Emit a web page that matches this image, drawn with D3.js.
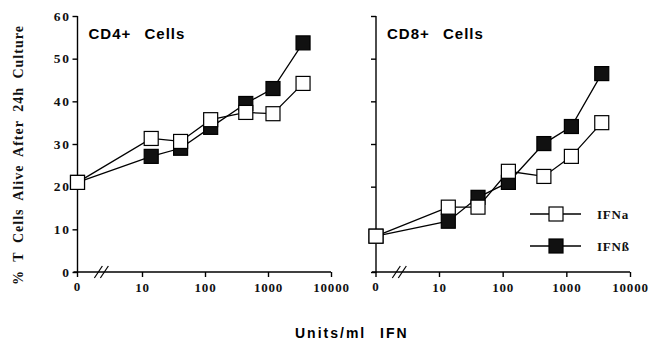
<!DOCTYPE html>
<html>
<head>
<meta charset="utf-8">
<script src="https://cdn.jsdelivr.net/npm/d3@7"></script>
<style>
  body { margin: 0; background: #fff; }
  .tick-lab { font-family: "Liberation Serif", "Times New Roman", serif; font-weight: bold; font-size: 13px; letter-spacing: 0.8px; }
  .y-lab { font-size: 13.5px; letter-spacing: 1.6px; }
  .panel-title { font-family: "Liberation Sans", Arial, sans-serif; font-weight: bold; font-size: 15px; letter-spacing: 1px; }
</style>
</head>
<body>
<svg id="chart" width="657" height="343"></svg>
<script>
// doses (units/ml); 0 is drawn left of the axis break
var doses = [0, 14, 41, 123, 444, 1200, 3600];
var cd4Alpha = [21, 31.3, 30.6, 35.7, 37.4, 37.1, 44.2];
var cd4Beta  = [21, 27.1, 29.0, 33.9, 39.5, 43.0, 53.7];
var cd8Alpha = [8.4, 15.2, 15.2, 23.6, 22.4, 27.1, 35.0];
var cd8Beta  = [8.4, 11.9, 17.5, 21.0, 30.1, 34.1, 46.5];
var xTicks = [10, 100, 1000, 10000];
var yTicks = [0, 10, 20, 30, 40, 50, 60];
var seriesNames = ['IFNa', 'IFNß'];

var svg = d3.select('#chart');
var y = d3.scaleLinear().domain([0, 60]).range([272, 16]);
var SQ = 14;

var panels = [
  { title: 'CD4+', alpha: cd4Alpha, beta: cd4Beta, x0: 77.5, logRange: [142, 331], labels: true },
  { title: 'CD8+', alpha: cd8Alpha, beta: cd8Beta, x0: 376, logRange: [439, 630], labels: false }
];

panels.forEach(function(p) {
  var xl = d3.scaleLog().domain([10, 10000]).range(p.logRange);
  var xpos = function(d) { return d === 0 ? p.x0 : xl(d); };
  var g = svg.append('g');

  // y axis
  var ya = d3.axisLeft(y).tickValues(yTicks).tickSize(5).tickPadding(2)
    .tickFormat(p.labels ? d3.format('d') : '');
  var yg = g.append('g').attr('transform', 'translate(' + p.x0 + ',0)').call(ya);
  yg.select('.domain').remove();
  yg.append('line').attr('x1', 0).attr('x2', 0).attr('y1', y(60)).attr('y2', y(0) + 1)
    .attr('stroke', '#000').attr('stroke-width', 1.4);
  yg.selectAll('.tick line').attr('stroke-width', 1.4);
  yg.selectAll('.tick text').attr('class', 'tick-lab y-lab').attr('fill', '#111');

  // x axis
  var xg = g.append('g').attr('transform', 'translate(0,' + y(0) + ')');
  xg.append('line').attr('x1', p.x0 - 4).attr('x2', p.logRange[1])
    .attr('stroke', '#000').attr('stroke-width', 1.4);
  var xa = d3.axisBottom(xl).tickValues(xTicks).tickSize(5).tickPadding(6).tickFormat(d3.format('d'));
  var xag = xg.append('g').call(xa);
  xag.select('.domain').remove();
  xag.selectAll('.tick line').attr('stroke-width', 1.4);
  xag.selectAll('.tick text').attr('class', 'tick-lab').attr('fill', '#111');
  xg.append('line').attr('x1', p.x0).attr('x2', p.x0).attr('y1', 0).attr('y2', 5)
    .attr('stroke', '#000').attr('stroke-width', 1.4);
  xg.append('text').attr('class', 'tick-lab').attr('x', p.x0).attr('y', 19)
    .attr('text-anchor', 'middle').attr('fill', '#111').text('0');

  // axis break
  var bx = p.x0 + (xl(10) - p.x0) * 0.37;
  [-3, 3].forEach(function(o) {
    xg.append('line').attr('x1', bx + o - 4).attr('y1', 6).attr('x2', bx + o + 4).attr('y2', -6)
      .attr('stroke', '#000').attr('stroke-width', 1.2);
  });

  // title
  g.append('text').attr('class', 'panel-title').attr('x', p.x0 + 11).attr('y', 39).text(p.title);
  g.append('text').attr('class', 'panel-title').attr('x', p.x0 + 67).attr('y', 39).text('Cells');

  // series
  var line = d3.line().x(function(d) { return xpos(d[0]); }).y(function(d) { return y(d[1]); });
  [[p.beta, '#111'], [p.alpha, '#fff']].forEach(function(s) {
    var pts = doses.map(function(d, i) { return [d, s[0][i]]; });
    g.append('path').datum(pts).attr('d', line)
      .attr('fill', 'none').attr('stroke', '#000').attr('stroke-width', 1.3);
  });
  [[p.beta, '#111'], [p.alpha, '#fff']].forEach(function(s) {
    var pts = doses.map(function(d, i) { return [d, s[0][i]]; });
    g.selectAll(null).data(pts).enter().append('rect')
      .attr('x', function(d) { return xpos(d[0]) - SQ / 2; })
      .attr('y', function(d) { return y(d[1]) - SQ / 2; })
      .attr('width', SQ).attr('height', SQ)
      .attr('fill', s[1]).attr('stroke', '#000').attr('stroke-width', 1.2);
  });
});

// legend
var legend = svg.append('g');
[['#fff', 214], ['#111', 246]].forEach(function(l, i) {
  legend.append('line').attr('x1', 530).attr('x2', 581).attr('y1', l[1]).attr('y2', l[1])
    .attr('stroke', '#000').attr('stroke-width', 1.3);
  legend.append('rect').attr('x', 556 - SQ / 2).attr('y', l[1] - SQ / 2)
    .attr('width', SQ).attr('height', SQ).attr('fill', l[0])
    .attr('stroke', '#000').attr('stroke-width', 1.2);
  legend.append('text').attr('class', 'tick-lab').attr('x', 597).attr('y', l[1] + 5)
    .attr('fill', '#111').text(seriesNames[i]);
});

// axis titles
svg.append('text')
  .attr('transform', 'translate(23,155) rotate(-90)')
  .attr('text-anchor', 'middle')
  .style('font-family', '"Liberation Serif", "Times New Roman", serif')
  .style('font-weight', 'bold').style('font-size', '14px')
  .style('letter-spacing', '1px').style('word-spacing', '4px')
  .attr('fill', '#111')
  .text('% T Cells Alive After 24h Culture');

svg.append('text').attr('x', 295).attr('y', 338)
  .style('font-family', '"Liberation Sans", Arial, sans-serif')
  .style('font-weight', 'bold').style('font-size', '14px').style('letter-spacing', '2px')
  .text('Units/ml');
svg.append('text').attr('x', 380).attr('y', 338)
  .style('font-family', '"Liberation Sans", Arial, sans-serif')
  .style('font-weight', 'bold').style('font-size', '14px').style('letter-spacing', '2px')
  .text('IFN');
</script>
</body>
</html>
